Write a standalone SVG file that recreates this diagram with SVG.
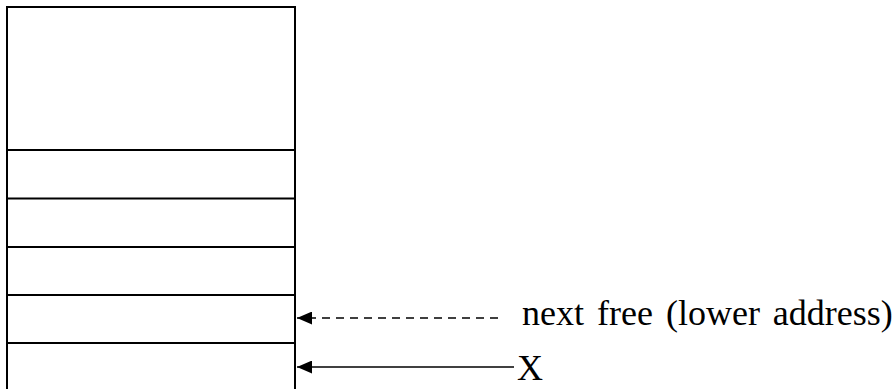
<svg xmlns="http://www.w3.org/2000/svg" width="896" height="389" viewBox="0 0 896 389">
<style>
.box{fill:#fff;stroke:#000;stroke-width:2}
.cell{stroke:#000;stroke-width:2}
.conn{stroke:#000;stroke-width:1.6;fill:none}
.dash{stroke-dasharray:8 6}
.lbl{font-family:"Liberation Serif","Times New Roman",serif;font-size:36px;fill:#000}
</style>
<defs>
<marker id="ah" markerWidth="15" markerHeight="13" refX="15" refY="6.5" orient="auto" markerUnits="userSpaceOnUse">
<path d="M0,0 L15,6.5 L0,13 Z" fill="#000"/>
</marker>
</defs>
<rect width="896" height="389" fill="#fff"/>
<g id="stack">
<path class="box" d="M7,400 V7 H295 V400"/>
<line class="cell" x1="7" y1="150" x2="295" y2="150"/>
<line class="cell" x1="7" y1="198.5" x2="295" y2="198.5"/>
<line class="cell" x1="7" y1="247" x2="295" y2="247"/>
<line class="cell" x1="7" y1="295" x2="295" y2="295"/>
<line class="cell" x1="7" y1="343" x2="295" y2="343"/>
</g>
<g id="connectors">
<line class="conn dash" x1="498" y1="318" x2="297" y2="318" marker-end="url(#ah)"/>
<line class="conn" x1="514" y1="367" x2="297" y2="367" marker-end="url(#ah)"/>
</g>
<g id="label-next">
<text class="lbl" x="522" y="325" word-spacing="4">next free (lower address)</text>
</g>
<g id="label-x">
<text class="lbl" x="517" y="380">X</text>
</g>
</svg>
